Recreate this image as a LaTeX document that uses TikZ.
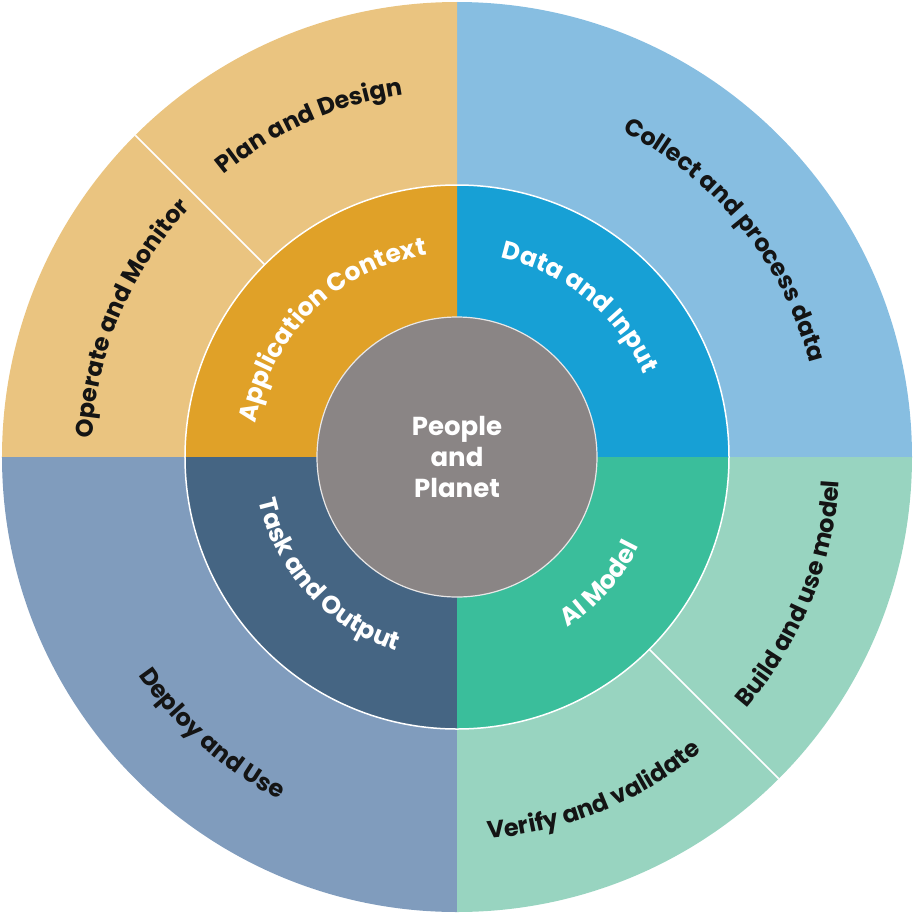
\documentclass[tikz,border=0pt]{standalone}
\usepackage{fontspec}
\setmainfont{Poppins}
\usetikzlibrary{decorations.text}

\definecolor{contextring}{RGB}{224,161,40}
\definecolor{contextstage}{RGB}{234,196,128}
\definecolor{dataring}{RGB}{23,160,213}
\definecolor{datastage}{RGB}{135,190,225}
\definecolor{modelring}{RGB}{58,190,155}
\definecolor{modelstage}{RGB}{152,212,192}
\definecolor{taskring}{RGB}{69,101,131}
\definecolor{taskstage}{RGB}{128,156,189}
\definecolor{planet}{RGB}{138,133,133}
\definecolor{stageink}{RGB}{20,20,20}

\newcommand{\ringfont}{\fontsize{25}{30}\selectfont\bfseries}
\newcommand{\stagefont}{\fontsize{24}{29}\selectfont\bfseries}
\newcommand{\centrefont}{\fontsize{26}{31}\selectfont\bfseries}

\tikzset{
	ringlabel/.style={decorate, decoration={text along path, text align={center}, text color=white, text={|\ringfont|#1}}},
	stagelabel/.style={decorate, decoration={text along path, text align={center}, text color=stageink, text={|\stagefont|#1}}},
	divider/.style={draw=white, line width=1.5pt}
}

\begin{document}
\begin{tikzpicture}
	\def\rin{140pt}
	\def\rmid{272pt}
	\def\rout{455pt}
	\useasboundingbox (-457pt,-457pt) rectangle (458pt,457pt);
	% outer ring: stages
	\foreach \from/\to/\col in {0/90/datastage, 90/180/contextstage, 180/270/taskstage, 270/360/modelstage}
	{
		\fill [\col] (0,0) -- (\from:\rout) arc [start angle=\from, end angle=\to, radius=\rout] -- cycle;
	}
	% inner ring: dimensions
	\foreach \from/\to/\col in {0/90/dataring, 90/180/contextring, 180/270/taskring, 270/360/modelring}
	{
		\fill [\col] (0,0) -- (\from:\rmid) arc [start angle=\from, end angle=\to, radius=\rmid] -- cycle;
	}
	\draw [divider] (0,0) circle [radius=\rmid];
	\draw [divider] (135:\rmid) -- (135:\rout);
	\draw [divider] (315:\rmid) -- (315:\rout);
	\node (planet) [circle, fill=planet, draw=white!80!planet, line width=1.2pt, minimum size=2*\rin, inner sep=0pt, text=white, font=\centrefont, align=center] at (0,0) {People\\and\\Planet};
	% upper labels run clockwise, lower ones anticlockwise
	\foreach \mid/\rr/\labl in {
		39/365/Collect and process data,
		114/366/Plan and Design,
		157/365/Operate and Monitor
	}
	{
		\path [stagelabel/.expanded=\labl] (\mid+60:\rr pt) arc [start angle=\mid+60, end angle=\mid-60, radius=\rr pt];
	}
	\foreach \mid/\rr/\labl in {
		228.5/386/Deploy and Use,
		292.2/383/Verify and validate,
		337.7/383/Build and use model
	}
	{
		\path [stagelabel/.expanded=\labl] (\mid-60:\rr pt) arc [start angle=\mid-60, end angle=\mid+60, radius=\rr pt];
	}
	\foreach \mid/\labl in {134.5/Application Context, 50.7/Data and Input}
	{
		\path [ringlabel/.expanded=\labl] (\mid+60:204pt) arc [start angle=\mid+60, end angle=\mid-60, radius=204pt];
	}
	\foreach \mid/\labl in {222.5/Task and Output, 318.4/AI Model}
	{
		\path [ringlabel/.expanded=\labl] (\mid-60:203pt) arc [start angle=\mid-60, end angle=\mid+60, radius=203pt];
	}
\end{tikzpicture}
\end{document}
